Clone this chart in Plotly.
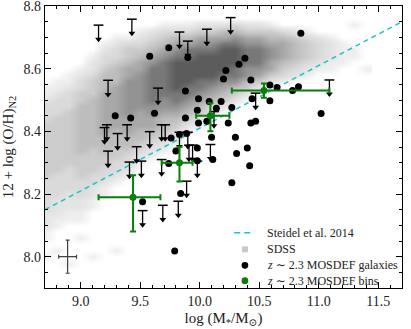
import numpy as np
import plotly.graph_objects as go

# one string per mass bin (sdss_mass), characters run from O/H = 8.76 down to 7.96
sdss_mass = [8.7, 8.8, 8.9, 9.0, 9.1, 9.2, 9.3, 9.4, 9.5, 9.6, 9.7, 9.8, 9.9, 10.0,
             10.1, 10.2, 10.3, 10.4, 10.5, 10.6, 10.7, 10.8, 10.9, 11.0, 11.1, 11.2, 11.3, 11.4]
sdss_cols = [
    "00000000000112333444444444333332221100100",
    "00000000001123334444444443333222110001000",
    "00000000011233344444444433332221100000010",
    "00000000123344555555554444333221100100000",
    "00000012234445555555544443322110000000100",
    "00001233455566666665554433211000000000000",
    "00012334555666666655544332100000000001000",
    "00013445667777776665543321000000000000000",
    "00123456677777766655432100000000000000000",
    "00234567888888776654321000000000000000000",
    "01345678888887765543210000000000000000000",
    "01356789999988765432100000000000000000000",
    "01356889999887654210000000000000000000000",
    "02467899998876542100000000000000000000000",
    "02467899998765320000000000000000000000000",
    "02568999987654200000000000000000000000000",
    "03578999887542000000000000000000000000000",
    "02467888775420000000000000000000000000000",
    "02467888764200000000000000000000000000000",
    "01456776642000000000000000000000000000000",
    "00356665431000000000000000000000000000000",
    "00245554320000000000000000000000000000000",
    "00134443210000000000000000000000000000000",
    "00023332100000000000000000000000000000000",
    "00012221100000000000000000000000000000000",
    "00001111000000000000000000000000000000000",
    "01000110000000000000000000000000000000000",
    "00000000100000000000000000000000000000000",
]
sdss_oh = np.round(np.arange(8.76, 7.95, -0.02), 2)

# Steidel et al. 2014 relation (end points across the axis)
steidel_mass = [8.7, 11.7]
steidel_oh = [8.15, 8.75]

# z~2.3 MOSDEF galaxies (detections)
gal_mass = [9.58, 9.74, 9.90, 9.88, 9.29, 9.42, 9.62, 9.99, 9.98, 9.88, 9.89, 9.76, 9.83,
            9.99, 9.74, 9.98, 9.98, 10.85, 10.38, 10.33, 10.22, 10.20, 10.43, 10.59, 10.65,
            10.78, 10.83, 10.59, 10.44, 10.27, 10.18, 10.14, 10.08, 10.06, 10.24, 10.43,
            10.47, 11.02, 10.10, 10.30, 10.31, 10.40, 10.42, 10.11, 10.27, 9.52, 9.84,
            9.79, 9.80]
gal_oh = [8.640, 8.667, 8.636, 8.529, 8.450, 8.443, 8.458, 8.504, 8.467, 8.443, 8.393,
          8.379, 8.390, 8.427, 8.297, 8.347, 8.306, 8.713, 8.633, 8.614, 8.594, 8.567,
          8.564, 8.548, 8.540, 8.530, 8.542, 8.498, 8.504, 8.476, 8.495, 8.474, 8.495,
          8.432, 8.427, 8.427, 8.432, 8.457, 8.381, 8.381, 8.329, 8.347, 8.290, 8.310,
          8.236, 8.175, 8.202, 8.018, 8.337]

# upper limits
lim_mass = [9.15, 9.43, 9.83, 9.90, 9.23, 9.65, 9.20, 9.22, 9.31, 9.39, 9.58, 9.68,
            9.71, 9.23, 9.47, 9.51, 9.41, 9.91, 9.94, 9.68, 9.98, 9.83, 9.90, 9.52,
            9.69, 9.82, 9.89, 10.09, 10.26, 10.06, 10.47, 11.09, 10.12]
lim_oh = [8.739, 8.758, 8.717, 8.688, 8.563, 8.538, 8.412, 8.421, 8.393, 8.421, 8.399,
          8.421, 8.421, 8.337, 8.351, 8.305, 8.302, 8.356, 8.356, 8.310, 8.305, 8.397,
          8.397, 8.147, 8.164, 8.177, 8.241, 8.358, 8.763, 8.726, 8.522, 8.564, 8.463]

# z~2.3 MOSDEF bins
bin_mass = [9.44, 9.83, 10.09, 10.54]
bin_oh = [8.19, 8.30, 8.45, 8.53]
bin_mass_lo = [0.29, 0.15, 0.12, 0.27]
bin_mass_hi = [0.23, 0.11, 0.16, 0.55]
bin_oh_lo = [0.11, 0.06, 0.05, 0.023]
bin_oh_hi = [0.07, 0.05, 0.04, 0.023]

# typical uncertainty
err_mass, err_oh = 8.89, 8.0
err_dmass, err_doh = 0.075, 0.053

legend_labels = ["Steidel et al. 2014", "SDSS",
                 "<i>z</i> ∼ 2.3 MOSDEF galaxies", "<i>z</i> ∼ 2.3 MOSDEF bins"]

arrow_len = 0.045
serif = "Liberation Serif, DejaVu Serif, serif"
green = "#0a7d0a"
cyan = "#1cc3c8"

z = np.array([[int(ch) for ch in col] for col in sdss_cols]).T

fig = go.Figure()

fig.add_trace(go.Heatmap(
    x=sdss_mass, y=sdss_oh, z=z, zmin=0, zmax=9, zsmooth="best",
    colorscale=[[0, "#ffffff"], [0.111, "#eeeeee"], [0.333, "#dadada"],
                [0.556, "#bdbdbd"], [0.778, "#939393"], [1, "#5c5c5c"]],
    showscale=False, hoverinfo="skip"))

fig.add_trace(go.Scatter(
    x=steidel_mass, y=steidel_oh, mode="lines",
    line=dict(color=cyan, width=1.5, dash="5px,4px")))

# upper limit arrows: cap, shaft, head
shaft_x, shaft_y = [], []
for m, o in zip(lim_mass, lim_oh):
    shaft_x += [m, m, None]
    shaft_y += [o, o - arrow_len, None]
fig.add_trace(go.Scatter(x=shaft_x, y=shaft_y, mode="lines",
                         line=dict(color="black", width=1.3), hoverinfo="skip"))
fig.add_trace(go.Scatter(x=lim_mass, y=lim_oh, mode="markers",
                         marker=dict(symbol="line-ew", size=7,
                                     line=dict(color="black", width=1.5))))
fig.add_trace(go.Scatter(x=lim_mass, y=[o - arrow_len for o in lim_oh], mode="markers",
                         marker=dict(symbol="triangle-down", size=6, color="black")))

fig.add_trace(go.Scatter(
    x=gal_mass, y=gal_oh, mode="markers", marker=dict(color="black", size=7)))

fig.add_trace(go.Scatter(
    x=bin_mass, y=bin_oh, mode="markers",
    marker=dict(color=green, size=7),
    error_x=dict(type="data", symmetric=False, array=bin_mass_hi,
                 arrayminus=bin_mass_lo, color=green, thickness=2, width=3),
    error_y=dict(type="data", symmetric=False, array=bin_oh_hi,
                 arrayminus=bin_oh_lo, color=green, thickness=2, width=3)))

fig.add_trace(go.Scatter(
    x=[err_mass], y=[err_oh], mode="markers",
    marker=dict(size=1, color="#404040"),
    error_x=dict(type="constant", value=err_dmass, color="#404040", thickness=1.2, width=2),
    error_y=dict(type="constant", value=err_doh, color="#404040", thickness=1.2, width=2)))

# legend drawn by hand (matplotlib-style compact rows)
row_y = [0.196, 0.137, 0.0805, 0.026]
sym_x = 0.560
for lab, yy in zip(legend_labels, row_y):
    fig.add_annotation(x=0.616, y=yy, xref="paper", yref="paper", text=lab,
                       showarrow=False, xanchor="left", yanchor="middle",
                       font=dict(family=serif, size=12, color="#222"))
fig.add_shape(type="line", xref="paper", yref="paper", x0=0.530, x1=0.585,
              y0=row_y[0], y1=row_y[0], line=dict(color=cyan, width=1.5, dash="6px,4px"))
fig.add_shape(type="rect", xref="paper", yref="paper", x0=sym_x - 0.0084, x1=sym_x + 0.0084,
              y0=row_y[1] - 0.0106, y1=row_y[1] + 0.0106,
              fillcolor="#c8c8c8", line=dict(width=0))
fig.add_shape(type="circle", xref="paper", yref="paper", x0=sym_x - 0.0095, x1=sym_x + 0.0095,
              y0=row_y[2] - 0.012, y1=row_y[2] + 0.012,
              fillcolor="black", line=dict(width=0))
fig.add_shape(type="circle", xref="paper", yref="paper", x0=sym_x - 0.0095, x1=sym_x + 0.0095,
              y0=row_y[3] - 0.012, y1=row_y[3] + 0.012,
              fillcolor=green, line=dict(width=0))

axis_common = dict(showline=True, linecolor="black", linewidth=1.3, mirror="allticks",
                   ticks="inside", ticklen=6, tickcolor="black", showgrid=False,
                   zeroline=False, automargin=False, ticklabeloverflow="allow",
                   tickfont=dict(family=serif, size=14, color="#222"))

fig.update_xaxes(range=[8.7, 11.7], tick0=9.0, dtick=0.5, tickformat=".1f",
                 minor=dict(dtick=0.1, ticks="inside", ticklen=3, tickcolor="black"),
                 title=dict(text="log (M<sub>*</sub>/M<sub>⊙</sub>)",
                            font=dict(family=serif, size=15, color="#222"), standoff=4),
                 **axis_common)
fig.update_yaxes(range=[7.9, 8.8001], tick0=8.0, dtick=0.2, tickformat=".1f",
                 minor=dict(dtick=0.05, ticks="inside", ticklen=3, tickcolor="black"),
                 title=dict(text="12 + log (O/H)<sub>N2</sub>",
                            font=dict(family=serif, size=15, color="#222"), standoff=6),
                 **axis_common)

fig.update_layout(
    width=411, height=329,
    margin=dict(l=45, r=9, t=6, b=41),
    plot_bgcolor="white", paper_bgcolor="white",
    showlegend=False,
)

fig.write_html("out.html", config={"displayModeBar": False},
               post_script="document.body.style.margin='0px';")
